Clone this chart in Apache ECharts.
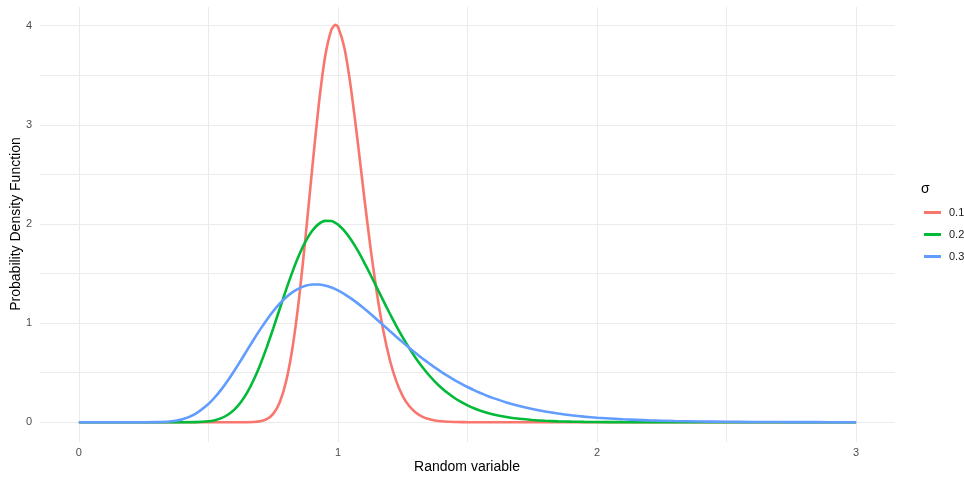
<!DOCTYPE html>
<html>
<head>
<meta charset="utf-8">
<script src="https://cdn.jsdelivr.net/npm/echarts@6/dist/echarts.min.js"></script>
<style>html,body{margin:0;padding:0;background:#fff;}#c{width:964px;height:481px;}</style>
</head>
<body>
<div id="c"></div>
<script>
const xValues = [0,0.05,0.1,0.15,0.2,0.25,0.3,0.35,0.4,0.45,0.5,
0.525,0.55,0.575,0.6,0.625,0.65,0.675,0.7,0.725,0.75,0.775,0.8,0.825,0.85,0.875,0.9,0.925,0.95,0.975,0.99,1,
1.025,1.05,1.075,1.1,1.125,1.15,1.175,1.2,1.225,1.25,1.275,1.3,1.325,1.35,1.375,1.4,1.425,1.45,1.475,1.5,1.525,1.55,1.575,1.6,
1.65,1.7,1.75,1.8,1.85,1.9,1.95,2,
2.1,2.2,2.3,2.4,2.5,2.6,2.7,2.8,2.9,3];

const sigma01 = [0,0,0,0,0,0,0,0,0,0,0,
0,0,0,0.00001,0.0001,0.0006,0.0026,0.0099,0.0313,0.0849,0.1999,0.4137,0.7600,1.2532,1.8695,2.5446,3.1826,3.6818,3.9627,4.0094,3.9894,
3.7752,3.3732,2.8573,2.3029,1.7723,1.3064,0.9250,0.6308,0.4154,0.2647,0.1636,0.0983,0.0574,0.0327,0.0182,0.0099,0.0053,0.0028,0.0014,0.0007,0.0003,0.0002,0.0001,0,
0,0,0,0,0,0,0,0,
0,0,0,0,0,0,0,0,0,0];

const sigma02 = [0,0,0,0,0,0,0,0,0.0001,0.0015,0.0098,
0.0212,0.0416,0.0755,0.1274,0.2018,0.3017,0.4285,0.5811,0.7554,0.9453,1.1426,1.3381,1.5223,1.6869,1.8242,1.9292,1.9987,2.0318,2.0295,2.0123,1.9947,
1.9313,1.8440,1.7381,1.6187,1.4908,1.3587,1.2265,1.0971,0.9732,0.8564,0.7481,0.6491,0.5594,0.4794,0.4084,0.3461,0.2918,0.2449,0.2047,0.1703,0.1412,0.1167,0.0960,0.0788,
0.0526,0.0347,0.0227,0.0148,0.0095,0.0061,0.0039,0.0025,
0.0010,0.0004,0.0002,0.0001,0,0,0,0,0,0];

const sigma03 = [0,0,0,0,0,0.0001,0.0014,0.0083,0.0313,0.0855,0.1843,
0.2523,0.3320,0.4219,0.5200,0.6236,0.7297,0.8351,0.9371,1.0327,1.1196,1.1960,1.2606,1.3123,1.3510,1.3765,1.3892,1.3899,1.3795,1.3591,1.3425,1.3298,
1.2930,1.2499,1.2016,1.1494,1.0944,1.0374,0.9795,0.9213,0.8635,0.8068,0.7514,0.6979,0.6464,0.5973,0.5506,0.5064,0.4649,0.4259,0.3895,0.3557,0.3242,0.2952,0.2683,0.2436,
0.2001,0.1637,0.1334,0.1084,0.0878,0.0710,0.0572,0.0461,
0.0298,0.0191,0.0123,0.0078,0.0050,0.0032,0.0021,0.0013,0.0008,0.0005];

const seriesNames = ['0.1','0.2','0.3'];
const seriesColors = ['#F8766D','#00BA38','#619CFF'];
const xTickLabels = [0,1,2,3];
const xGridValues = [0,0.5,1,1.5,2,2.5,3];
const yTickLabels = [0,1,2,3,4];
const yGridValues = [0,0.5,1,1.5,2,2.5,3,3.5,4];
const xTitle = 'Random variable';
const yTitle = 'Probability Density Function';
const legendTitle = 'σ';

const allY = [sigma01, sigma02, sigma03];
const font = 'Liberation Sans, Arial, sans-serif';

const chart = echarts.init(document.getElementById('c'), null, {renderer: 'canvas'});
chart.setOption({
  animation: false,
  backgroundColor: '#ffffff',
  textStyle: {fontFamily: font},
  title: {
    text: legendTitle, left: 916, top: 177,
    textStyle: {fontSize: 14, fontWeight: 'normal', color: '#000', fontFamily: font}
  },
  graphic: [
    {type: 'text', x: 467, y: 467, style: {text: xTitle, fill: '#000', font: '14px ' + font, textAlign: 'center', textVerticalAlign: 'middle'}},
    {type: 'text', x: 16, y: 224, rotation: Math.PI / 2, style: {text: yTitle, fill: '#000', font: '14px ' + font, textAlign: 'center', textVerticalAlign: 'middle'}}
  ],
  legend: {
    orient: 'vertical', left: 919, top: 201,
    itemWidth: 17, itemHeight: 3, itemGap: 9,
    icon: 'rect',
    data: seriesNames,
    textStyle: {fontSize: 11, lineHeight: 13, color: '#1a1a1a', padding: [0,0,0,3], fontFamily: font}
  },
  grid: {left: 40, right: 69, top: 7, bottom: 39, containLabel: false, outerBoundsMode: 'none'},
  xAxis: {
    type: 'value', min: -0.15, max: 3.15,
    axisLine: {show: false},
    axisTick: {show: false, customValues: xGridValues},
    axisLabel: {customValues: xTickLabels, fontSize: 11, color: '#4d4d4d', margin: 5, fontFamily: font},
    splitLine: {show: true, lineStyle: {color: '#ebebeb', width: 1}}
  },
  yAxis: {
    type: 'value', min: -0.199, max: 4.189,
    axisLine: {show: false},
    axisTick: {show: false, customValues: yGridValues},
    axisLabel: {customValues: yTickLabels, fontSize: 11, color: '#4d4d4d', margin: 8, fontFamily: font},
    splitLine: {show: true, lineStyle: {color: '#ebebeb', width: 1}}
  },
  series: seriesNames.map((n, i) => ({
    name: n, type: 'line', showSymbol: false, symbol: 'none', smooth: 0.2,
    color: seriesColors[i],
    lineStyle: {width: 2.6, color: seriesColors[i]},
    data: xValues.map((x, j) => [x, allY[i][j]])
  }))
});
</script>
</body>
</html>
